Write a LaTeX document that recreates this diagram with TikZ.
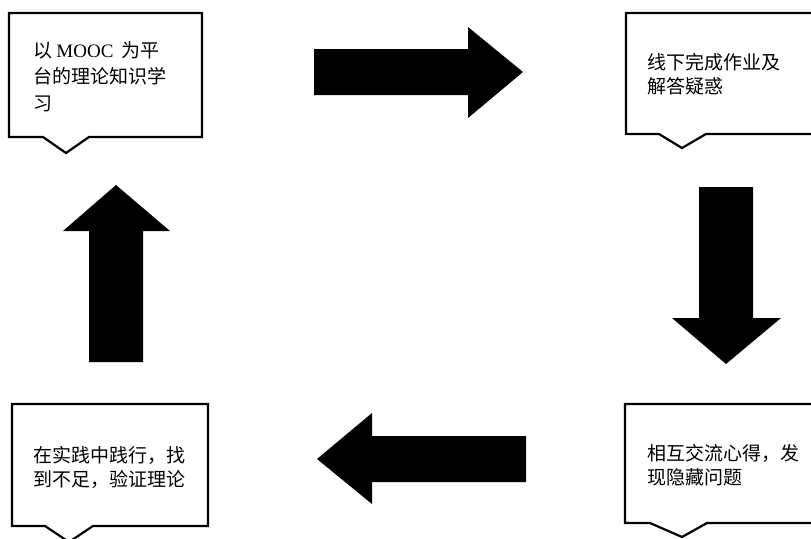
\documentclass[tikz,border=0pt]{standalone}
\usepackage{fontspec}
\setmainfont{Liberation Serif}
\newfontfamily\cjk{Noto Sans CJK SC}
\newfontfamily\latin{Liberation Serif}
\begin{document}
\begin{tikzpicture}[x=1pt,y=-1pt,
  bx/.style={draw=black,line width=2.2pt,fill=white},
  blk/.style={fill=black,draw=none},
  tx/.style={anchor=north west,align=left,inner sep=0pt,font=\fontsize{19}{24.5}\selectfont\cjk}]
\useasboundingbox (0,0) rectangle (811,538);
% callout boxes
\draw[bx] (9,13) -- (202,13) -- (202,137) -- (89,137) -- (66,153) -- (43,137) -- (9,137) -- cycle;
\draw[bx] (626,13) -- (816,13) -- (816,134) -- (706,134) -- (682,148) -- (659,134) -- (626,134) -- cycle;
\draw[bx] (625,404) -- (816,404) -- (816,523) -- (707,523) -- (682,537) -- (650,523) -- (625,523) -- cycle;
\draw[bx] (12,404) -- (208,404) -- (208,526) -- (93,526) -- (69,542) -- (45,526) -- (12,526) -- cycle;
\node[tx,font=\fontsize{19}{26.5}\selectfont\cjk] (mooc) at (33,41) {以 {\latin MOOC}\ \ 为平\\台的理论知识学\\习};
\node[tx] (task) at (647,53) {线下完成作业及\\解答疑惑};
\node[tx] (share) at (647,444) {相互交流心得，发\\现隐藏问题};
\node[tx] (prac) at (33,446) {在实践中践行，找\\到不足，验证理论};
% block arrows
\fill[blk] (314,49) -- (468,49) -- (468,27) -- (523,72) -- (468,118) -- (468,95) -- (314,95) -- cycle;
\fill[blk] (699,187) -- (753,187) -- (753,318) -- (781,318) -- (726,364) -- (672,318) -- (699,318) -- cycle;
\fill[blk] (526,436) -- (372,436) -- (372,413) -- (317,459) -- (372,504) -- (372,482) -- (526,482) -- cycle;
\fill[blk] (89,362) -- (89,231) -- (63,231) -- (116,185) -- (170,231) -- (143,231) -- (143,362) -- cycle;
\end{tikzpicture}
\end{document}
